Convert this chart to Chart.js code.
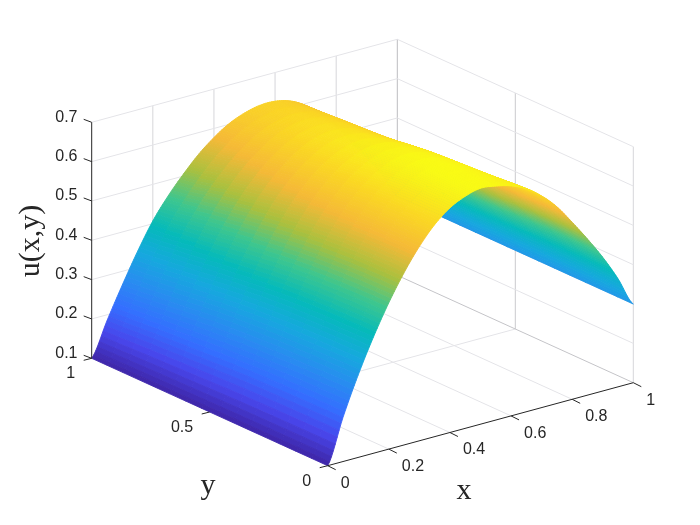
<!DOCTYPE html>
<html>
<head>
<meta charset="utf-8">
<style>
  html, body { margin: 0; padding: 0; background: #fff; }
  canvas { display: block; }
</style>
<script src="https://cdn.jsdelivr.net/npm/chart.js@4"></script>
</head>
<body>
<canvas id="chart" width="700" height="525"></canvas>
<script>
// values
const xValues = [0, 0.05, 0.1, 0.15, 0.2, 0.25, 0.3, 0.35, 0.4, 0.45, 0.5, 0.55, 0.6, 0.65, 0.7, 0.75, 0.8, 0.85, 0.9, 0.95, 1];
const yValues = [0, 0.2, 0.4, 0.6, 0.8, 1];
const uAtY00 = [0.1, 0.212, 0.31, 0.396, 0.472, 0.538, 0.594, 0.639, 0.671, 0.69, 0.7, 0.695, 0.685, 0.667, 0.638, 0.6, 0.55, 0.497, 0.44, 0.375, 0.3];
const uAtY02 = [0.1, 0.21, 0.307, 0.393, 0.469, 0.535, 0.59, 0.635, 0.668, 0.69, 0.7, 0.697, 0.683, 0.657, 0.63, 0.592, 0.545, 0.495, 0.44, 0.375, 0.3];
const uAtY04 = [0.1, 0.207, 0.302, 0.386, 0.46, 0.524, 0.578, 0.621, 0.653, 0.674, 0.685, 0.684, 0.672, 0.65, 0.62, 0.582, 0.535, 0.485, 0.432, 0.372, 0.3];
const uAtY06 = [0.1, 0.2, 0.293, 0.372, 0.443, 0.505, 0.558, 0.599, 0.63, 0.652, 0.663, 0.663, 0.653, 0.635, 0.607, 0.572, 0.528, 0.48, 0.428, 0.368, 0.3];
const uAtY08 = [0.1, 0.193, 0.278, 0.355, 0.424, 0.483, 0.532, 0.572, 0.603, 0.627, 0.641, 0.646, 0.641, 0.627, 0.6, 0.566, 0.523, 0.475, 0.425, 0.366, 0.3];
const uAtY10 = [0.1, 0.185, 0.265, 0.34, 0.407, 0.46, 0.505, 0.545, 0.577, 0.602, 0.618, 0.627, 0.627, 0.617, 0.595, 0.56, 0.52, 0.47, 0.42, 0.365, 0.3];
const uRows = [uAtY00, uAtY02, uAtY04, uAtY06, uAtY08, uAtY10];

const xTicks = [0, 0.2, 0.4, 0.6, 0.8, 1];
const xTickLabels = ['0', '0.2', '0.4', '0.6', '0.8', '1'];
const yTicks = [0, 0.5, 1];
const yTickLabels = ['0', '0.5', '1'];
const uTicks = [0.1, 0.2, 0.3, 0.4, 0.5, 0.6, 0.7];
const uTickLabels = ['0.1', '0.2', '0.3', '0.4', '0.5', '0.6', '0.7'];

// parula, sampled
const parula = [
  [62, 38, 168], [72, 70, 235], [52, 110, 255], [40, 140, 240], [22, 168, 222],
  [5, 186, 186], [62, 198, 142], [170, 192, 62], [245, 185, 55], [250, 215, 35], [249, 251, 21]
];
const uMin = 0.1, uMax = 0.7;

// the view: where x=0,y=0,u=0.1 lands and what each axis adds
const origin = [327.7, 465.7];
const xDir = [305.6, -83];
const yDir = [-236, -107.4];
const uSpan = 236;

function project(x, y, u) {
  return {
    x: origin[0] + x * xDir[0] + y * yDir[0],
    y: origin[1] + x * xDir[1] + y * yDir[1] - (u - 0.1) / 0.6 * uSpan
  };
}

function colorFor(u) {
  const t = Math.min(1, Math.max(0, (u - uMin) / (uMax - uMin))) * (parula.length - 1);
  const i = Math.min(parula.length - 2, Math.floor(t));
  const f = t - i;
  const c = parula[i].map((v, k) => Math.round(v + (parula[i + 1][k] - v) * f));
  return `rgb(${c[0]},${c[1]},${c[2]})`;
}

function lineSet(points, color, width) {
  return {
    type: 'line',
    data: points,
    borderColor: color,
    borderWidth: width,
    pointRadius: 0,
    fill: false,
    tension: 0
  };
}

// like shading interp: the read cells are split up and smoothed for drawing only
const SPLIT_X = 8, SPLIT_Y = 3;

function cubic(a, b, c, d, f) {
  return b + 0.5 * f * (c - a + f * (2 * a - 5 * b + 4 * c - d + f * (3 * (b - c) + d - a)));
}

function uAt(i, j, fx, fy) {
  const rowAt = r => {
    const row = uRows[Math.max(0, Math.min(uRows.length - 1, r))];
    const pick = k => row[Math.max(0, Math.min(row.length - 1, k))];
    return cubic(pick(i - 1), pick(i), pick(i + 1), pick(i + 2), fx);
  };
  return cubic(rowAt(j - 1), rowAt(j), rowAt(j + 1), rowAt(j + 2), fy);
}

function surfaceSets() {
  const sets = [];
  for (let i = 0; i < xValues.length - 1; i++) {
    for (let a = 0; a < SPLIT_X; a++) {
      for (let j = 0; j < yValues.length - 1; j++) {
        for (let b = 0; b < SPLIT_Y; b++) {
          const at = (s, r) => {
            const fx = s / SPLIT_X, fy = r / SPLIT_Y;
            const u = uAt(i, j, fx, fy);
            const x = xValues[i] + (xValues[i + 1] - xValues[i]) * fx;
            const y = yValues[j] + (yValues[j + 1] - yValues[j]) * fy;
            return { p: project(x, y, u), u };
          };
          const c = [at(a, b), at(a + 1, b), at(a + 1, b + 1), at(a, b + 1)];
          const col = colorFor((c[0].u + c[1].u + c[2].u + c[3].u) / 4);
          const set = lineSet([c[0].p, c[1].p, c[2].p, c[3].p, c[0].p], col, 0.9);
          set.backgroundColor = col;
          set.fill = 'shape';
          sets.push(set);
        }
      }
    }
  }
  return sets;
}

function gridSets() {
  const sets = [];
  const light = '#e4e4e8', mid = '#d6d6da';
  uTicks.forEach(u => {
    sets.push(lineSet([project(0, 1, u), project(1, 1, u)], light, 1));
    sets.push(lineSet([project(1, 1, u), project(1, 0, u)], u === 0.1 ? '#c4c4c8' : light, 1));
  });
  xTicks.forEach(x => {
    if (x > 0 && x < 1) {
      sets.push(lineSet([project(x, 0, 0.1), project(x, 1, 0.1)], light, 1));
      sets.push(lineSet([project(x, 1, 0.1), project(x, 1, 0.7)], mid, 1));
    }
  });
  sets.push(lineSet([project(0, 0.5, 0.1), project(1, 0.5, 0.1)], light, 1));
  sets.push(lineSet([project(1, 0.5, 0.1), project(1, 0.5, 0.7)], '#cacace', 1));
  sets.push(lineSet([project(1, 1, 0.1), project(1, 1, 0.7)], '#bcbcc0', 1));
  sets.push(lineSet([project(1, 0, 0.1), project(1, 0, 0.7)], mid, 1));
  return sets;
}

function axisSets() {
  const dark = '#262626';
  const sets = [
    lineSet([project(0, 1, 0.1), project(0, 1, 0.7)], dark, 1),
    lineSet([project(0, 0, 0.1), project(1, 0, 0.1)], dark, 1)
  ];
  // tick marks
  uTicks.forEach(u => {
    const p = project(0, 1, u);
    sets.push(lineSet([p, { x: p.x - 8, y: p.y - 3 }], dark, 1));
  });
  xTicks.forEach(x => {
    const p = project(x, 0, 0.1);
    sets.push(lineSet([p, { x: p.x + 8, y: p.y + 4 }], dark, 1));
  });
  yTicks.forEach(y => {
    const p = project(0, y, 0.1);
    sets.push(lineSet([p, { x: p.x - 8, y: p.y + 2 }], dark, 1));
  });
  return sets;
}

// tick labels and axis titles
const labelPlugin = {
  id: 'labels3d',
  afterDraw(chart) {
    const ctx = chart.ctx;
    const sx = chart.scales.x, sy = chart.scales.y;
    const put = (text, px, py, align) => {
      ctx.textAlign = align;
      ctx.fillText(text, sx.getPixelForValue(px), sy.getPixelForValue(py));
    };
    ctx.save();
    ctx.fillStyle = '#262626';
    ctx.textBaseline = 'middle';
    ctx.font = '16px "Liberation Sans"';
    uTicks.forEach((u, i) => {
      put(uTickLabels[i], 77.5, project(0, 1, u).y - 5, 'right');
    });
    xTicks.forEach((x, i) => {
      const p = project(x, 0, 0.1);
      put(xTickLabels[i], p.x + 13, p.y + 17.5, 'left');
    });
    yTicks.forEach((y, i) => {
      const p = project(0, y, 0.1);
      put(yTickLabels[i], p.x - 16.5, p.y + 15.5, 'right');
    });
    ctx.font = '30px "Liberation Serif"';
    put('x', 464, 491, 'center');
    put('y', 208, 486, 'center');
    ctx.translate(sx.getPixelForValue(31), sy.getPixelForValue(241));
    ctx.rotate(-Math.PI / 2);
    ctx.textAlign = 'center';
    ctx.fillText('u(x,y)', 0, 0);
    ctx.restore();
  }
};

new Chart(document.getElementById('chart'), {
  type: 'line',
  // first dataset ends up on top, so nearest things go first
  data: { datasets: [...axisSets(), ...surfaceSets(), ...gridSets()] },
  options: {
    responsive: false,
    animation: false,
    devicePixelRatio: 1,
    parsing: { xAxisKey: 'x', yAxisKey: 'y' },
    layout: { padding: 0 },
    scales: {
      x: { type: 'linear', min: 0, max: 700, display: false },
      y: { type: 'linear', min: 0, max: 525, reverse: true, display: false }
    },
    plugins: { legend: { display: false }, tooltip: { enabled: false } }
  },
  plugins: [labelPlugin]
});
</script>
</body>
</html>
